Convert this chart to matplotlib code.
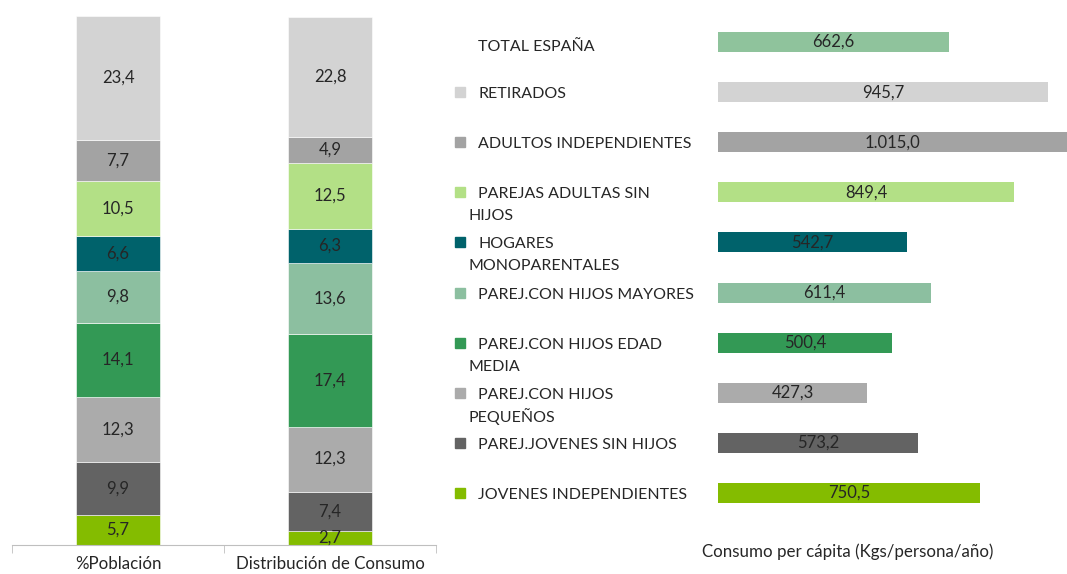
import matplotlib
matplotlib.use("Agg")
import matplotlib.pyplot as plt
from matplotlib.patches import Rectangle
from matplotlib.transforms import blended_transform_factory
import numpy as np

plt.rcParams['font.family'] = ['Lato', 'DejaVu Sans']

# datos
grupos = ["JOVENES INDEPENDIENTES", "PAREJ.JOVENES SIN HIJOS", "PAREJ.CON HIJOS PEQUEÑOS",
          "PAREJ.CON HIJOS EDAD MEDIA", "PAREJ.CON HIJOS MAYORES", "HOGARES MONOPARENTALES",
          "PAREJAS ADULTAS SIN HIJOS", "ADULTOS INDEPENDIENTES", "RETIRADOS"]
colores = ["#84BC00", "#636363", "#ABABAB", "#339955", "#8CBFA0", "#00626B",
           "#B3E086", "#A3A3A3", "#D3D3D3"]
poblacion = [5.7, 9.9, 12.3, 14.1, 9.8, 6.6, 10.5, 7.7, 23.4]
consumo = [2.7, 7.4, 12.3, 17.4, 13.6, 6.3, 12.5, 4.9, 22.8]
columnas = ["%Población", "Distribución de Consumo"]

# barras horizontales (de arriba a abajo)
filas = ["TOTAL ESPAÑA", "RETIRADOS", "ADULTOS INDEPENDIENTES", "PAREJAS ADULTAS SIN\nHIJOS",
         "HOGARES\nMONOPARENTALES", "PAREJ.CON HIJOS MAYORES", "PAREJ.CON HIJOS EDAD\nMEDIA",
         "PAREJ.CON HIJOS\nPEQUEÑOS", "PAREJ.JOVENES SIN HIJOS", "JOVENES INDEPENDIENTES"]
per_capita = [662.6, 945.7, 1015.0, 849.4, 542.7, 611.4, 500.4, 427.3, 573.2, 750.5]
colores_filas = ["#8FC39C", "#D3D3D3", "#A3A3A3", "#B3E086", "#00626B", "#8CBFA0",
                 "#339955", "#ABABAB", "#636363", "#84BC00"]

txt = "#262626"

def fmt(v):
    s = f"{v:,.1f}"
    return s.replace(",", "X").replace(".", ",").replace("X", ".")

W, H = 1067, 574
fig = plt.figure(figsize=(W / 100, H / 100), dpi=100)

# --- barras apiladas ---
ax1 = fig.add_axes([12 / W, 29 / H, 424 / W, 529 / H])
for j, datos in enumerate([poblacion, consumo]):
    base = 0
    for v, c in zip(datos, colores):
        ax1.bar(j, v, bottom=base, width=0.4, color=c, edgecolor="white", linewidth=0.4)
        ax1.text(j, base + v / 2, fmt(v), ha="center", va="center", fontsize=12,
                 color=txt, clip_on=False)
        base += v
ax1.set_xlim(-0.5, 1.5)
ax1.set_ylim(0, 100)
for s in ["top", "right", "left"]:
    ax1.spines[s].set_visible(False)
ax1.spines["bottom"].set_color("#BFBFBF")
ax1.set_yticks([])
ax1.set_xticks([0, 1])
ax1.set_xticklabels(columnas, fontsize=12.2, color=txt)
ax1.tick_params(axis="x", which="major", length=0, pad=8)
ax1.set_xticks([-0.5, 0.5, 1.5], minor=True)
ax1.tick_params(axis="x", which="minor", length=6, color="#BFBFBF")

# --- barras horizontales ---
ax2 = fig.add_axes([718 / W, (574 - 518) / H, (W - 718) / W, 501 / H])
y = np.arange(len(filas))
bars = ax2.barh(y, per_capita, height=0.4, color=colores_filas)
ax2.bar_label(bars, labels=[fmt(v) for v in per_capita], label_type="center",
              fontsize=12, color=txt)
ax2.set_xlim(0, 1001)
ax2.set_ylim(9.5, -0.5)
ax2.axis("off")

tr = blended_transform_factory(fig.transFigure, ax2.transData)
for i, (lab, c) in enumerate(zip(filas, colores_filas)):
    lineas = lab.split("\n")
    dy = 0.1 if i == 0 else 0.04
    ax2.text(478 / W, i + dy, lineas[0], transform=tr, ha="left", va="center",
             fontsize=11.5, color=txt)
    if len(lineas) > 1:
        ax2.text(468 / W, i + 0.48, lineas[1], transform=tr, ha="left", va="center",
                 fontsize=11.5, color=txt)
    if i > 0:
        ax2.add_patch(Rectangle((455 / W, i - 0.1), 10 / W, 0.2, transform=tr,
                                color=c, clip_on=False))

fig.text(848 / W, 1 - 552 / H, "Consumo per cápita (Kgs/persona/año)", ha="center",
         va="center", fontsize=12.2, color=txt)

fig.savefig("out.png", dpi=100)
